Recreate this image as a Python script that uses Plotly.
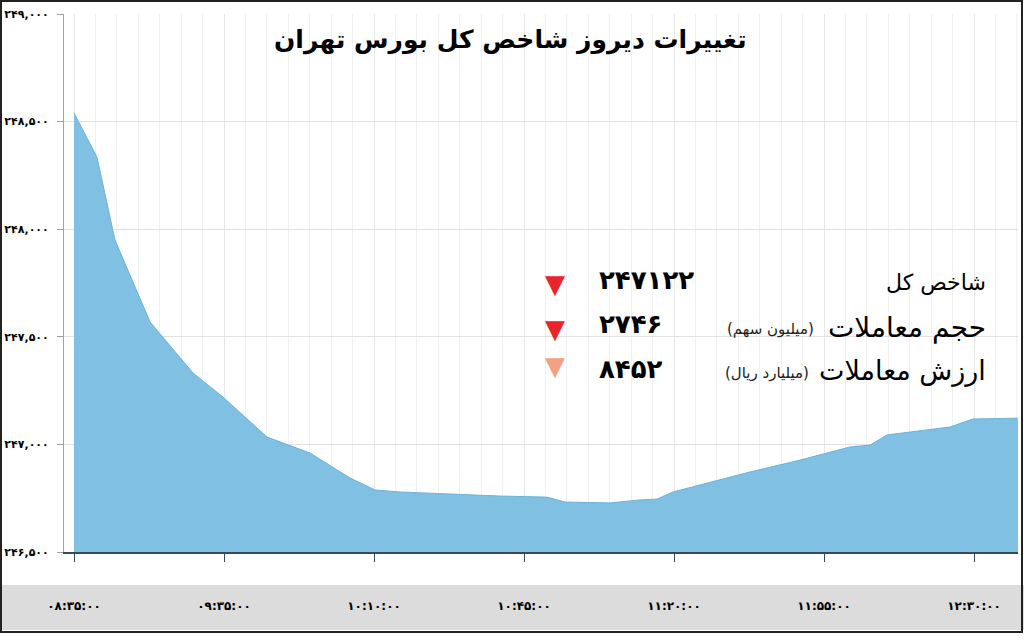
import plotly.graph_objects as go

# ---- data ----
# x positions in tick-step units (0 = ۰۸:۳۵:۰۰, 1 = ۰۹:۳۵:۰۰, ...)
x_pos = [0.0, 0.153, 0.273, 0.507, 0.793, 0.993, 1.287, 1.573, 1.84, 2.007, 2.173,
         2.84, 3.153, 3.273, 3.573, 3.773, 3.887, 3.993, 4.507, 4.84, 5.173, 5.307,
         5.42, 5.84, 5.993, 6.3]
index_vals = [248540, 248335, 247950, 247569, 247332, 247220, 247034, 246960, 246844,
              246788, 246779, 246760, 246755, 246732, 246728, 246742, 246746, 246779,
              246872, 246927, 246988, 246997, 247044, 247081, 247118, 247122]

x_tickvals = [0, 1, 2, 3, 4, 5, 6]
x_ticktext = ["۰۸:۳۵:۰۰", "۰۹:۳۵:۰۰", "۱۰:۱۰:۰۰", "۱۰:۴۵:۰۰", "۱۱:۲۰:۰۰", "۱۱:۵۵:۰۰", "۱۲:۳۰:۰۰"]
y_tickvals = [246500, 247000, 247500, 248000, 248500, 249000]
y_ticktext = ["۲۴۶,۵۰۰", "۲۴۷,۰۰۰", "۲۴۷,۵۰۰", "۲۴۸,۰۰۰", "۲۴۸,۵۰۰", "۲۴۹,۰۰۰"]

title_text = "تغییرات دیروز شاخص کل بورس تهران"
stat_labels = ["شاخص کل", "حجم معاملات", "ارزش معاملات"]
stat_units = ["", "(میلیون سهم)", "(میلیارد ریال)"]
stat_values = ["۲۴۷۱۲۲", "۲۷۴۶", "۸۴۵۲"]
stat_colors = ["#e8252b", "#e8252b", "#f2a182"]

FONT = "DejaVu Sans"
L, B, H, W = 64, 552, 538, 954  # plot area geometry (px)


def px(xp):
    return (xp - L) / W


def py(yp):
    return (B - yp) / H


fig = go.Figure()
fig.add_trace(go.Scatter(
    x=x_pos, y=index_vals, mode="lines", fill="tozeroy",
    line=dict(color="#6db2d9", width=1),
    fillcolor="#80c0e3", hoverinfo="skip", showlegend=False,
))

fig.update_layout(
    width=1024, height=640,
    margin=dict(l=64, r=6, t=14, b=88, autoexpand=False),
    paper_bgcolor="white", plot_bgcolor="white",
    font=dict(family=FONT, color="black"),
    xaxis=dict(
        range=[-0.0667, 6.293], tickvals=x_tickvals, ticktext=x_ticktext,
        showgrid=True, gridcolor="#e6e6e6", gridwidth=1,
        minor=dict(dtick=1/7, showgrid=True, gridcolor="#f0f0f0", gridwidth=1),
        showline=True, linecolor="#34495a", linewidth=2,
        ticks="outside", ticklen=8, tickcolor="#34495a", tickwidth=1,
        tickfont=dict(family=FONT, size=12, color="black", weight="bold"),
        ticklabelstandoff=34, zeroline=False, fixedrange=True, automargin=False,
    ),
    yaxis=dict(
        range=[246500, 249000], tickvals=y_tickvals, ticktext=y_ticktext,
        showgrid=True, gridcolor="#e2e2e2", gridwidth=1,
        showline=True, linecolor="#a0a0a0", linewidth=1,
        ticks="outside", ticklen=6, tickcolor="#a0a0a0",
        tickfont=dict(family=FONT, size=11, color="black", weight="bold"),
        ticklabelstandoff=6, zeroline=False, fixedrange=True, automargin=False,
    ),
)

# grey band behind x tick labels, and outer frame
fig.add_shape(type="rect", xref="paper", yref="paper",
              x0=px(0), x1=px(1024), y0=py(630), y1=py(585),
              fillcolor="#dcdcdc", line=dict(width=0), layer="below")
fig.add_shape(type="rect", xref="paper", yref="paper",
              x0=px(1), x1=px(1022), y0=py(632), y1=py(1),
              fillcolor="rgba(0,0,0,0)", line=dict(color="#222", width=2))

# title
fig.add_annotation(text=title_text, xref="paper", yref="paper",
                   x=px(510), y=py(40), xanchor="center", yanchor="middle",
                   showarrow=False, font=dict(family=FONT, size=25, color="black", weight="bold"))

# stats block
label_y = [283, 327, 371]
label_size = [22, 28, 27]
value_y = [280, 324, 369]
tri_y = [284, 329, 366]
unit_right = [None, 816, 811]
for i in range(3):
    fig.add_annotation(text=stat_labels[i], xref="paper", yref="paper", x=px(988), y=py(label_y[i]),
                       xanchor="right", yanchor="middle", showarrow=False,
                       font=dict(family=FONT, size=label_size[i], color="black"))
    if stat_units[i]:
        fig.add_annotation(text=stat_units[i], xref="paper", yref="paper",
                           x=px(unit_right[i]), y=py(label_y[i] + 2),
                           xanchor="right", yanchor="middle", showarrow=False,
                           font=dict(family=FONT, size=15, color="#222222"))
    fig.add_annotation(text=stat_values[i], xref="paper", yref="paper", x=px(597), y=py(value_y[i]),
                       xanchor="left", yanchor="middle", showarrow=False,
                       font=dict(family=FONT, size=26, color="black", weight="bold"))
    fig.add_annotation(text="▼", xref="paper", yref="paper", x=px(555), y=py(tri_y[i]),
                       xanchor="center", yanchor="middle", showarrow=False,
                       font=dict(family=FONT, size=26, color=stat_colors[i]))

fig.write_html("out.html", config={"displayModeBar": False},
               post_script="document.body.style.margin='0';")
